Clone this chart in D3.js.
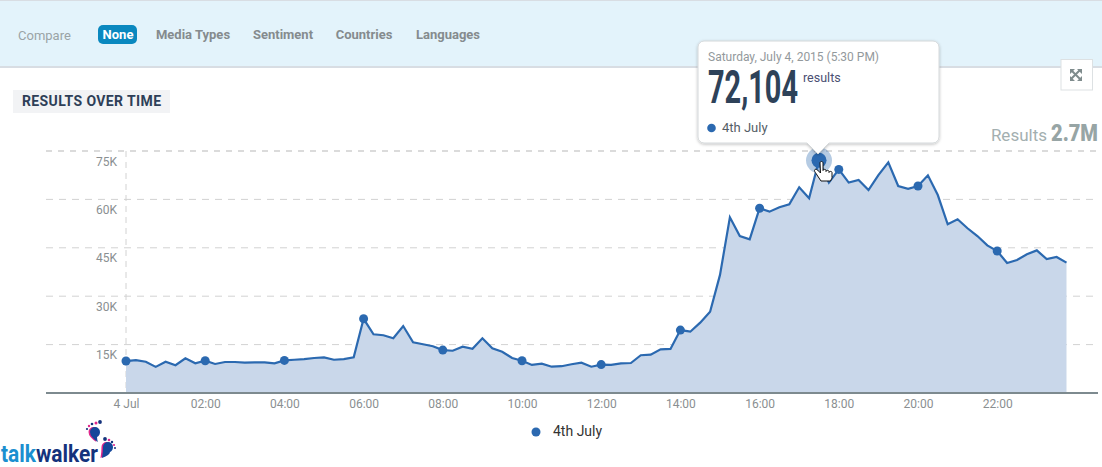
<!DOCTYPE html>
<html><head><meta charset="utf-8">
<script src="https://cdn.jsdelivr.net/npm/d3@7/dist/d3.min.js"></script>
<style>
html,body{margin:0;padding:0;background:#fff;overflow:hidden}
svg{display:block;font-family:Roboto,sans-serif}
</style></head><body><div id="c"></div>
<script>
const seriesName = "4th July";
const values = [9900,10200,9700,8100,9700,8600,10750,9200,10000,9000,9600,9600,9400,9500,9500,9200,
10100,10300,10500,10850,11050,10300,10500,11050,23000,18200,17900,16950,20750,15700,15100,14500,
13300,13100,14350,13700,16950,13850,12800,10850,10000,8700,9100,8150,8300,8900,9400,8150,
8800,8700,9200,9300,11700,11900,13550,13650,19500,19000,21800,25200,36600,54450,48650,47650,
57250,56200,57550,58500,63750,60350,72104,65200,69300,65200,66000,62900,67550,71500,64150,63300,
64150,67450,61350,52300,53850,51050,48650,45750,44000,40300,41200,43000,44200,41500,42150,40400];
const markerIdx = [0,8,16,24,32,40,48,56,64,72,80,88];
const hoverIdx = 70;
const yTicks = [15000,30000,45000,60000,75000];
const xTickHours = [0,2,4,6,8,10,12,14,16,18,20,22];
const xTickLabels = ["4 Jul","02:00","04:00","06:00","08:00","10:00","12:00","14:00","16:00","18:00","20:00","22:00"];
const tabs = ["None","Media Types","Sentiment","Countries","Languages"];
const tabX = [118,193,283,364,448];

const W=1102,H=467,blue="#2b69b0";
const x=d3.scaleLinear().domain([0,24]).range([126,1076.4]);
const y=d3.scaleLinear().domain([0,75000]).range([393,151]);
const hourOf=i=>i/4;
const svg=d3.select("#c").append("svg").attr("width",W).attr("height",H);
// squeeze a text horizontally to an exact pixel width, starting at left edge px
const fitText=(sel,px,py,width)=>{
  const w=sel.node().getComputedTextLength();
  sel.attr("transform",`translate(${px},${py}) scale(${width/w},1)`);
};

// header band
svg.append("rect").attr("width",W).attr("height",67).attr("fill","#e3f3fb");
svg.append("rect").attr("width",W).attr("height",1).attr("fill","#d8dde3");
svg.append("rect").attr("y",66).attr("width",W).attr("height",2).attr("fill","#d8dde3");
svg.append("text").attr("x",18).attr("y",40).attr("font-size",13).attr("fill","#9aa3a6").text("Compare");
svg.append("rect").attr("x",98).attr("y",25).attr("width",39).attr("height",19).attr("rx",5).attr("fill","#0a88bf");
svg.selectAll(".tab").data(tabs).join("text").attr("class","tab")
  .attr("x",(d,i)=>tabX[i]).attr("y",39).attr("text-anchor","middle")
  .attr("font-size",13).attr("font-weight",700)
  .attr("fill",(d,i)=>i?"#858b8e":"#fff").text(d=>d);

// title
svg.append("rect").attr("x",13).attr("y",90).attr("width",157).attr("height",23).attr("fill","#f2f3f5");
svg.append("text").attr("x",22).attr("y",106).attr("font-size",14).attr("font-weight",700)
  .attr("fill","#2e3f58").attr("textLength",139).text("RESULTS OVER TIME");

// results total
svg.append("text").attr("x",1047).attr("y",141).attr("text-anchor","end")
  .attr("font-size",17).attr("fill","#a3afb0").text("Results");
const total=svg.append("text").attr("font-size",24).attr("font-weight",900).attr("fill","#97a5a5").text("2.7M");
fitText(total,1051,141,47);

// expand button
const eb=svg.append("g");
eb.append("rect").attr("x",1061).attr("y",59.5).attr("width",31.5).attr("height",30.5).attr("fill","#fff").attr("stroke","#dde1e3");
eb.append("path").attr("d","M1071 70l9 9M1080 70l-9 9").attr("stroke","#7f8c8d").attr("stroke-width",2);
eb.append("path").attr("fill","#7f8c8d").attr("d","M1070 69h5l-5 5zM1082 69v5l-5-5zM1070 81v-5l5 5zM1082 81h-5l5-5z");

// grid
svg.append("g").selectAll("line").data(yTicks).join("line")
  .attr("x1",46).attr("x2",1098).attr("y1",d=>y(d)).attr("y2",d=>y(d))
  .attr("stroke",d=>d===75000?"#cfcfcf":"#d2d2d2").attr("stroke-width",d=>d===75000?1.5:1)
  .attr("stroke-dasharray",d=>d===75000?"6 6":"7 6");
svg.append("line").attr("x1",x(0)).attr("x2",x(0)).attr("y1",151).attr("y2",393)
  .attr("stroke","#d2d2d2").attr("stroke-dasharray","6 5");

// y labels sit just under each gridline
svg.append("g").selectAll("text").data(yTicks).join("text")
  .attr("x",117).attr("y",d=>y(d)+14.5).attr("text-anchor","end")
  .attr("font-size",12).attr("fill","#8a8f91").text(d=>d/1000+"K");

// area + line
const area=d3.area().x((d,i)=>x(hourOf(i))).y0(y(0)).y1(d=>y(d));
const line=d3.line().x((d,i)=>x(hourOf(i))).y(d=>y(d));
svg.append("path").attr("d",area(values)).attr("fill","#c9d7ea");
svg.append("path").attr("d",line(values)).attr("fill","none").attr("stroke",blue).attr("stroke-width",2.2).attr("stroke-linejoin","miter");

// x axis
const ax=svg.append("g").attr("transform","translate(0,393)")
  .call(d3.axisBottom(x).tickValues(xTickHours).tickSize(0).tickPadding(6).tickFormat((d,i)=>xTickLabels[i]));
ax.select(".domain").remove();
ax.selectAll("text").attr("font-family","Roboto,sans-serif").attr("font-size",12).attr("fill","#8a8f91");
svg.append("rect").attr("x",46).attr("y",392).attr("width",1052).attr("height",2).attr("fill","#7d8a8f");

// markers
svg.append("g").selectAll("circle").data(markerIdx).join("circle")
  .attr("cx",i=>x(hourOf(i))).attr("cy",i=>y(values[i])).attr("r",4.5).attr("fill",blue);
const hx=x(hourOf(hoverIdx)),hy=y(values[hoverIdx]);
svg.append("circle").attr("cx",hx).attr("cy",hy).attr("r",13).attr("fill",blue).attr("opacity",.35);
svg.append("circle").attr("cx",hx).attr("cy",hy).attr("r",7.5).attr("fill",blue);

// tooltip
const defs=svg.append("defs");
const f=defs.append("filter").attr("id","sh").attr("x","-10%").attr("y","-10%").attr("width","120%").attr("height","130%");
f.append("feDropShadow").attr("dx",0).attr("dy",1).attr("stdDeviation",1.5).attr("flood-color","#000").attr("flood-opacity",.25);
const tt=svg.append("g");
tt.append("path").attr("filter","url(#sh)").attr("fill","#fff").attr("stroke","#d4d8da")
 .attr("d",`M704 41H933a6 6 0 0 1 6 6V137a6 6 0 0 1 -6 6H${hx+10}L${hx-1} 154L${hx-12} 143H704a6 6 0 0 1 -6 -6V47a6 6 0 0 1 6 -6Z`);
tt.append("text").attr("x",708).attr("y",61).attr("font-size",12).attr("fill","#93999c").text("Saturday, July 4, 2015 (5:30 PM)");
const big=tt.append("text")
  .attr("font-family","'Liberation Sans Narrow',Roboto,sans-serif")
  .attr("font-size",46).attr("font-weight",700).attr("fill","#2e4259")
  .text(d3.format(",")(values[hoverIdx]));
fitText(big,708,103,90);
tt.append("text").attr("x",803).attr("y",82).attr("font-size",12.5).attr("fill","#4a4f72").text("results");
tt.append("circle").attr("cx",711.5).attr("cy",128).attr("r",4.3).attr("fill",blue);
tt.append("text").attr("x",722).attr("y",132).attr("font-size",13).attr("fill","#555d66").text(seriesName);

// hand cursor
svg.append("path").attr("fill","#fff").attr("stroke","#111").attr("stroke-width",1).attr("stroke-linejoin","round")
 .attr("d","M820 163c0-2 3-2 3 0V170.500c0-1.500 3-1.500 3 0v1c0-1.500 3-1.500 3 0v1c0-1.500 3-1.500 3 0v5c0 1-1 2-1.500 3.500h-9.500c-1-2-3-4-4-6c-1-2-2.500-3-2.500-4.500c0-1.500 2-1.500 3-.5l3 3Z");

// legend
svg.append("circle").attr("cx",536).attr("cy",432).attr("r",4.5).attr("fill",blue);
svg.append("text").attr("x",553).attr("y",436).attr("font-size",14).attr("fill","#333").text(seriesName);

// logo
const lg=svg.append("text").attr("font-family","'Liberation Sans Narrow',Roboto,sans-serif").attr("font-size",23.5).attr("font-weight",700);
lg.append("tspan").attr("fill","#1b8fd0").text("talk");
lg.append("tspan").attr("fill","#14327c").text("walker");
fitText(lg,1,462,97);

function foot(cx,cy,tx,ty,toes){
  const shape=(ox)=>`M${cx-5+ox} ${cy-1}a5 5 0 0 1 10 0c0 4-3 5-3 5Q${cx+2+ox} ${(cy+ty)/2+2} ${tx+ox} ${ty}Q${cx-5+ox} ${cy+4} ${cx-5+ox} ${cy-1}Z`;
  svg.append("path").attr("fill","#e0278c").attr("d",shape(-1.5));
  svg.append("path").attr("fill","#14479a").attr("d",shape(0));
  toes.forEach(([a,b,r],k)=>svg.append("circle").attr("cx",a).attr("cy",b).attr("r",r).attr("fill",k%2?"#e0278c":"#14327c"));
}
foot(95,433,98,442,[[87,429,1.1],[89,426,1.2],[92,424,1.3],[96,423,1.5],[100,422,1.9]]);
foot(108,448,102,458,[[105,439,1.9],[109,440,1.3],[112,442,1.2],[114,445,1.1],[115,448,1]]);
</script></body></html>
